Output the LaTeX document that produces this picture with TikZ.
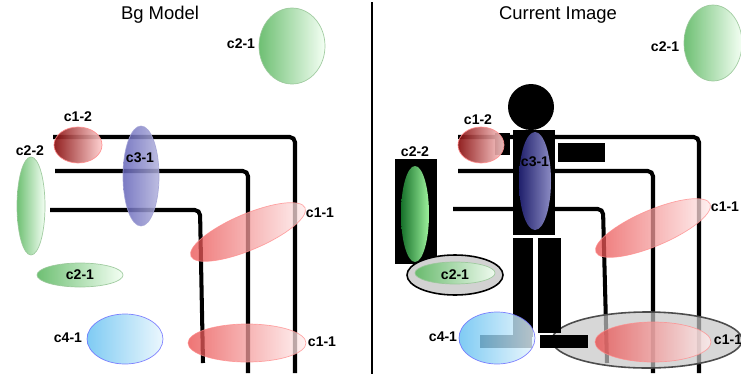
\documentclass[tikz,border=0pt]{standalone}
\usepackage{fontspec}
\setmainfont{Liberation Sans}
\usepackage{xcolor}
\usepackage{tikz}
\definecolor{blobred}{RGB}{232,70,70}
\definecolor{deepred}{RGB}{135,10,10}
\definecolor{blobgreen}{RGB}{95,185,100}
\definecolor{deepgreen}{RGB}{25,120,45}
\definecolor{blobblue}{RGB}{100,100,185}
\definecolor{navyblob}{RGB}{35,35,115}
\definecolor{skyblob}{RGB}{95,190,240}
\tikzstyle{wire} = [line width=2.3pt, rounded corners=3pt]
\tikzstyle{tag} = [font=\fontsize{8}{9}\selectfont\bfseries, inner sep=1pt]
\tikzstyle{heading} = [font=\fontsize{10.5}{12}\selectfont, inner sep=1pt]
\tikzstyle{redblob} = [left color=blobred, right color=red!6, draw=red!45, opacity=0.75]
\tikzstyle{handblob} = [left color=deepred, right color=red!20, draw=red!45, opacity=0.9]
\tikzstyle{greenblob} = [left color=blobgreen, right color=green!5, draw=green!45!black!40, opacity=0.9]
\tikzstyle{blueblob} = [left color=blobblue, right color=blobblue!50, draw=blobblue!60, opacity=0.85]
\tikzstyle{skyblobst} = [left color=skyblob, right color=skyblob!15, draw=blue!60, opacity=0.8]
\tikzstyle{body} = [fill=black]

\begin{document}
\begin{tikzpicture}[x=0.02cm, y=-0.02cm]
        \useasboundingbox (0,0) rectangle (741,376);
        % left half: background model
        \node[heading] (bgtitle) at (160,15) {Bg Model};
        \draw[wire] (53,137) -- (295,137) -- (295,373);
        \draw[wire] (55,171) -- (248,171) -- (248,373);
        \draw[wire] (50,210) -- (200,210) -- (203,363);
        \shade[greenblob] (292,46) ellipse [x radius=33, y radius=38];
        \shade[handblob] (78,145) ellipse [x radius=24, y radius=18];
        \shade[greenblob] (31,206) ellipse [x radius=14, y radius=49];
        \shade[blueblob] (141,176) ellipse [x radius=18, y radius=50];
        \shade[redblob, shift={(248,232)}, rotate=23] (0,0) ellipse [x radius=62, y radius=18];
        \shade[greenblob] (80,275) ellipse [x radius=43, y radius=12];
        \shade[skyblobst] (125,339) ellipse [x radius=38, y radius=25];
        \shade[redblob] (247,343) ellipse [x radius=59, y radius=19];
        \node[tag] (lctwo) at (241,44) {c2-1};
        \node[tag] (lcotwo) at (78,117) {c1-2};
        \node[tag] (lctwotwo) at (30,151) {c2-2};
        \node[tag] (lcthree) at (140,158) {c3-1};
        \node[tag] (lcone) at (320,213) {c1-1};
        \node[tag] (lctwolow) at (80,275) {c2-1};
        \node[tag] (lcfour) at (68,338) {c4-1};
        \node[tag] (lconelow) at (322,342) {c1-1};

        \draw[line width=1.1pt] (372,2) -- (372,374);

        % right half: current frame with person
        \node[heading] (curtitle) at (558,15) {Current Image};
        \draw[wire] (458,137) -- (699,137) -- (699,373);
        \draw[wire] (458,171) -- (653,171) -- (653,373);
        \draw[wire] (453,209) -- (603,209) -- (607,363);
        \fill[gray!45, opacity=0.7] (647,340) ellipse [x radius=95, y radius=28];
        \draw[black!70, line width=0.9pt] (647,340) ellipse [x radius=95, y radius=28];
        \fill[body] (531,107) circle [radius=23];
        \fill[body] (513,130) rectangle (555,235);
        \fill[body] (558,143) rectangle (605,162);
        \fill[body] (495,133) rectangle (510,155);
        \fill[body] (513,238) rectangle (533,337);
        \fill[body] (538,238) rectangle (561,333);
        \fill[body] (540,335) rectangle (588,348);
        \fill[body] (480,335) rectangle (532,348);
        \fill[body] (395,159) rectangle (437,264);
        \shade[greenblob] (713,43) ellipse [x radius=29, y radius=38];
        \shade[left color=deepgreen, right color=green!35, opacity=0.95] (415,214) ellipse [x radius=14, y radius=48];
        \fill[gray!35] (455,275) ellipse [x radius=48, y radius=20];
        \draw[black, line width=0.9pt] (455,275) ellipse [x radius=48, y radius=20];
        \shade[greenblob] (455,273) ellipse [x radius=40, y radius=11];
        \shade[left color=navyblob, right color=blobblue!70, opacity=0.95] (535,181) ellipse [x radius=16, y radius=49];
        \shade[handblob] (481,145) ellipse [x radius=23, y radius=18];
        \shade[redblob, shift={(653,228)}, rotate=23] (0,0) ellipse [x radius=62, y radius=18];
        \shade[redblob] (653,342) ellipse [x radius=58, y radius=20];
        \shade[skyblobst] (497,338) ellipse [x radius=38, y radius=26];
        \node[tag] (rctwo) at (665,47) {c2-1};
        \node[tag] (rcotwo) at (478,120) {c1-2};
        \node[tag] (rctwotwo) at (415,152) {c2-2};
        \node[tag] (rcthree) at (535,162) {c3-1};
        \node[tag] (rcone) at (725,207) {c1-1};
        \node[tag] (rctwolow) at (455,275) {c2-1};
        \node[tag] (rcfour) at (443,337) {c4-1};
        \node[tag] (rconelow) at (728,340) {c1-1};
\end{tikzpicture}
\end{document}
